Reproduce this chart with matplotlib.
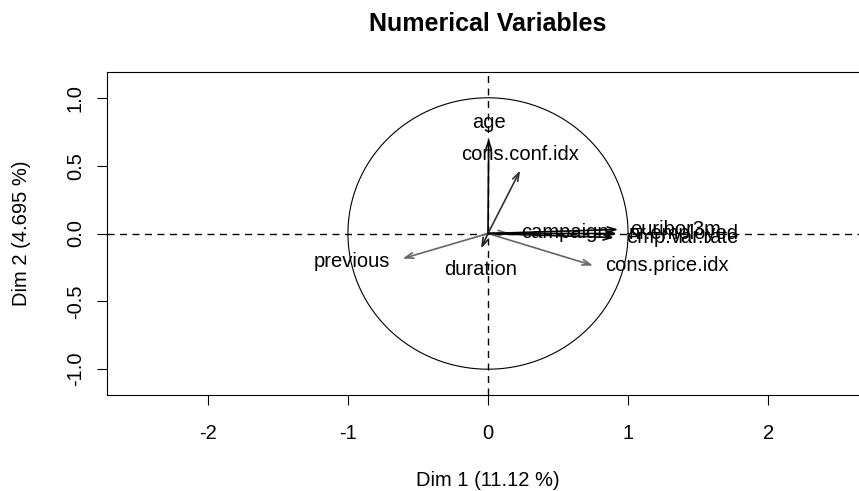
import numpy as np
import matplotlib
matplotlib.use("Agg")
import matplotlib.pyplot as plt

variables = ["age", "duration", "campaign", "previous", "emp.var.rate",
             "cons.price.idx", "cons.conf.idx", "euribor3m", "nr.employed"]
dim1 = [0.005, -0.05, 0.15, -0.61, 0.90, 0.75, 0.23, 0.93, 0.92]
dim2 = [0.70, -0.11, 0.005, -0.185, -0.03, -0.236, 0.465, 0.03, 0.00]
x_ticks = [-2, -1, 0, 1, 2]
y_ticks = [-1.0, -0.5, 0.0, 0.5, 1.0]
title = "Numerical Variables"
xlabel = "Dim 1 (11.12 %)"
ylabel = "Dim 2 (4.695 %)"

# styling per variable (R-like label position: 1 below, 2 left, 3 above, 4 right)
label_pos = [3, 1, 4, 2, 4, 4, 3, 4, 4]
arrow_col = ["#000000", "#222222", "#777777", "#666666", "#000000",
             "#666666", "#333333", "#000000", "#000000"]

plt.rcParams['font.family'] = ['Liberation Sans', 'DejaVu Sans']
W, H = 859, 491
fig = plt.figure(figsize=(W / 100, H / 100), dpi=100)
left, right, top, bottom = 107, 869, 72, 395
ax = fig.add_axes([left / W, (H - bottom) / H, (right - left) / W, (bottom - top) / H])
ax.set_xlim(-2.72, 2.72)
ax.set_ylim(-1.19, 1.19)

# unit circle
t = np.linspace(0, 2 * np.pi, 400)
ax.plot(np.cos(t), np.sin(t), color="black", lw=0.8)
ax.axhline(0, color="black", lw=1.0, ls=(0, (5, 4)))
ax.axvline(0, color="black", lw=1.0, ls=(0, (5, 4)))

offsets = {1: ((0, -12), "center", "top"),
           2: ((-12, -3), "right", "center"),
           3: ((0, 6), "center", "bottom"),
           4: ((12, 0), "left", "center")}

for name, x, y, p, c in zip(variables, dim1, dim2, label_pos, arrow_col):
    ax.annotate("", xy=(x, y), xytext=(0, 0),
                arrowprops=dict(arrowstyle="->,head_length=0.6,head_width=0.2",
                                color=c, lw=1.2, shrinkA=0, shrinkB=0))
    off, ha, va = offsets[p]
    ax.annotate(name, xy=(x, y), xytext=off, textcoords="offset pixels",
                ha=ha, va=va, fontsize=14.5, color="black")

ax.set_xticks(x_ticks)
ax.set_xticklabels([str(v) for v in x_ticks])
ax.set_yticks(y_ticks)
ax.set_yticklabels([f"{v:.1f}" for v in y_ticks], rotation=90, va="center")
ax.tick_params(axis="x", direction="out", length=7, width=0.8, labelsize=14.5, pad=14)
ax.tick_params(axis="y", direction="out", length=7, width=0.8, labelsize=14.5, pad=9)
for s in ax.spines.values():
    s.set_linewidth(0.8)

fig.text(487.5 / W, 1 - 24 / H, title, ha="center", va="center",
         fontsize=18, fontweight="bold")
fig.text(488 / W, 1 - 480 / H, xlabel, ha="center", va="center", fontsize=14.5)
fig.text(22 / W, 1 - 233 / H, ylabel, ha="center", va="center",
         fontsize=14.5, rotation=90)

fig.savefig("out.png", dpi=100)
